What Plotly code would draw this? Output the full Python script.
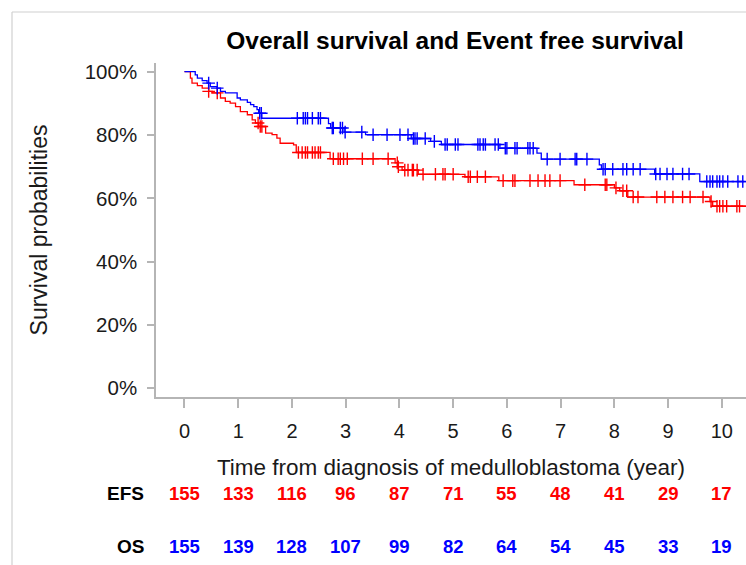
import numpy as np
import plotly.graph_objects as go

# ---------------- data ----------------
efs_times = [0, 0.11, 0.14, 0.24, 0.33, 0.45, 0.52, 0.67, 0.76, 0.85, 0.95, 1.04, 1.17, 1.26,
             1.32, 1.38, 1.51, 1.63, 1.72, 1.78, 2.03, 2.08, 2.71, 3.92, 3.97, 4.05, 4.35,
             5.22, 5.85, 7.25, 8.0, 8.1, 8.25, 9.78, 9.83]
efs_surv = [1.0, 0.98, 0.964, 0.956, 0.948, 0.938, 0.933, 0.917, 0.906, 0.901, 0.89, 0.874, 0.864, 0.848,
            0.838, 0.827, 0.806, 0.801, 0.79, 0.774, 0.769, 0.745, 0.725, 0.712, 0.70, 0.689, 0.676,
            0.668, 0.656, 0.643, 0.633, 0.624, 0.604, 0.59, 0.575]
efs_censor = [0.45, 0.61, 1.37, 1.41, 1.44, 2.12, 2.19, 2.25, 2.29, 2.38, 2.43, 2.49, 2.53, 2.77,
              2.86, 2.9, 2.96, 3.03, 3.31, 3.51, 3.79, 3.96, 3.98, 4.1, 4.16, 4.24, 4.26, 4.33,
              4.44, 4.67, 4.81, 4.85, 5.0, 5.28, 5.32, 5.45, 5.6, 5.93, 6.11, 6.15, 6.43, 6.58,
              6.71, 6.8, 6.99, 7.45, 7.83, 7.86, 8.03, 8.16, 8.23, 8.35, 8.44, 8.79, 8.94, 9.09,
              9.27, 9.41, 9.65, 9.8, 9.91, 9.96, 10.02, 10.09, 10.28, 10.33]

os_times = [0, 0.2, 0.24, 0.33, 0.42, 0.48, 0.61, 0.67, 0.76, 0.98, 1.04, 1.17, 1.23, 1.29, 1.35,
            1.38, 1.44, 2.68, 2.72, 2.97, 3.37, 4.22, 4.58, 4.78, 5.87, 6.56, 6.64, 7.72, 7.76,
            8.75, 9.59]
os_surv = [1.0, 0.99, 0.98, 0.972, 0.964, 0.953, 0.948, 0.938, 0.933, 0.917, 0.911, 0.903, 0.896, 0.89, 0.88,
           0.869, 0.853, 0.836, 0.822, 0.809, 0.801, 0.789, 0.78, 0.77, 0.758, 0.743, 0.724, 0.706, 0.692,
           0.677, 0.653]
os_censor = [0.45, 0.61, 1.40, 1.43, 2.1, 2.21, 2.25, 2.29, 2.38, 2.49, 2.53, 2.75, 2.77, 2.9, 2.94,
             2.99, 3.30, 3.51, 3.77, 4.01, 4.16, 4.26, 4.29, 4.33, 4.48, 4.65, 4.85, 4.89, 5.04,
             5.09, 5.46, 5.5, 5.56, 5.6, 5.78, 5.84, 5.97, 6.0, 6.15, 6.19, 6.39, 6.43, 6.49, 6.75,
             6.99, 7.27, 7.30, 7.49, 7.79, 7.83, 7.97, 8.16, 8.23, 8.35, 8.48, 8.77, 8.85, 8.98,
             9.09, 9.27, 9.39, 9.72, 9.78, 9.83, 9.91, 9.96, 10.02, 10.11, 10.3, 10.39]

followup_end = 10.6

risk_years = list(range(11))
efs_at_risk = [155, 133, 116, 96, 87, 71, 55, 48, 41, 29, 17]
os_at_risk = [155, 139, 128, 107, 99, 82, 64, 54, 45, 33, 19]

y_tickvals = [0, 0.2, 0.4, 0.6, 0.8, 1.0]
y_ticktext = ["0%", "20%", "40%", "60%", "80%", "100%"]

RED = "#FF0000"
BLUE = "#0000FF"
AXIS = "#b5b5b5"
FONT = "Liberation Sans, Arial, Helvetica, sans-serif"
TXT = "#1a1a1a"

# page is 746x565; body margin is removed in the page so the figure sits at (0, 0)
W, H = 746, 565
ML, MR, MT = 156, 0, 63
MB = H - 397
PW, PH = W - ML - MR, H - MT - MB


def px_x(px):
    return (px - ML) / PW


def px_y(py):
    return (H - MB - py) / PH


def step_at(times, surv, t):
    t = np.asarray(t)
    idx = np.searchsorted(np.asarray(times), t, side="right") - 1
    return np.asarray(surv)[idx]


fig = go.Figure()

for times, surv, cens, col, name in [
    (efs_times, efs_surv, efs_censor, RED, "EFS"),
    (os_times, os_surv, os_censor, BLUE, "OS"),
]:
    xs = list(times) + [followup_end]
    ys = list(surv) + [surv[-1]]
    fig.add_trace(go.Scatter(x=xs, y=ys, mode="lines", line=dict(color=col, width=1.3, shape="hv"),
                             name=name, showlegend=False, hoverinfo="skip"))
    fig.add_trace(go.Scatter(x=cens, y=step_at(times, surv, cens), mode="markers",
                             marker=dict(symbol="cross-thin", size=9, line=dict(color=col, width=1.4)),
                             showlegend=False, hoverinfo="skip"))

fig.update_xaxes(range=[-0.53, 10.45], tickvals=risk_years, ticktext=[str(v) for v in risk_years],
                 showline=True, linecolor=AXIS, linewidth=1.5, ticks="outside", ticklen=9,
                 tickcolor=AXIS, tickwidth=1.5, showgrid=False, zeroline=False,
                 tickfont=dict(family=FONT, size=20, color=TXT), ticklabelstandoff=6,
                 title=dict(text="Time from diagnosis of medulloblastoma (year)",
                            font=dict(family=FONT, size=22.5, color=TXT), standoff=18))
fig.update_yaxes(range=[-0.0275, 1.0275], tickvals=y_tickvals, ticktext=y_ticktext,
                 showline=True, linecolor=AXIS, linewidth=1.5, ticks="outside", ticklen=7,
                 tickcolor=AXIS, tickwidth=1.5, showgrid=False, zeroline=False,
                 tickfont=dict(family=FONT, size=20.5, color=TXT), ticklabelstandoff=6,
                 title=dict(text="Survival probabilities",
                            font=dict(family=FONT, size=23, color=TXT), standoff=31))

annotations = []
for lbl, vals, col, py in [("EFS", efs_at_risk, RED, 493), ("OS", os_at_risk, BLUE, 546)]:
    annotations.append(dict(x=px_x(146), y=px_y(py), xref="paper", yref="paper", text=lbl,
                            showarrow=False, xanchor="right", yanchor="middle",
                            font=dict(family=FONT, size=19, color="#000000", weight="bold")))
    for yr, v in zip(risk_years, vals):
        annotations.append(dict(x=yr, y=px_y(py), xref="x", yref="paper", text=str(v),
                                showarrow=False, xanchor="center", yanchor="middle",
                                font=dict(family=FONT, size=18.5, color=col, weight="bold")))

shapes = [
    dict(type="line", xref="paper", yref="paper", x0=px_x(12), x1=px_x(W + 4), y0=px_y(12), y1=px_y(12),
         line=dict(color="#d0d0d0", width=1.2)),
    dict(type="line", xref="paper", yref="paper", x0=px_x(12), x1=px_x(12), y0=px_y(12), y1=px_y(H + 4),
         line=dict(color="#d0d0d0", width=1.2)),
]

fig.update_layout(
    width=W, height=H,
    margin=dict(l=ML, r=MR, t=MT, b=MB, pad=0),
    paper_bgcolor="white", plot_bgcolor="white",
    title=dict(text="Overall survival and Event free survival", xref="container", x=455 / W,
               xanchor="center", yref="container", y=1 - 40 / H, yanchor="middle",
               font=dict(family=FONT, size=24.5, color="#000000", weight="bold")),
    annotations=annotations, shapes=shapes,
)

fig.write_html("out.html", config={"displayModeBar": False},
               post_script="document.body.style.margin='0';document.body.style.overflow='hidden';"
                           "document.documentElement.style.overflow='hidden';")
